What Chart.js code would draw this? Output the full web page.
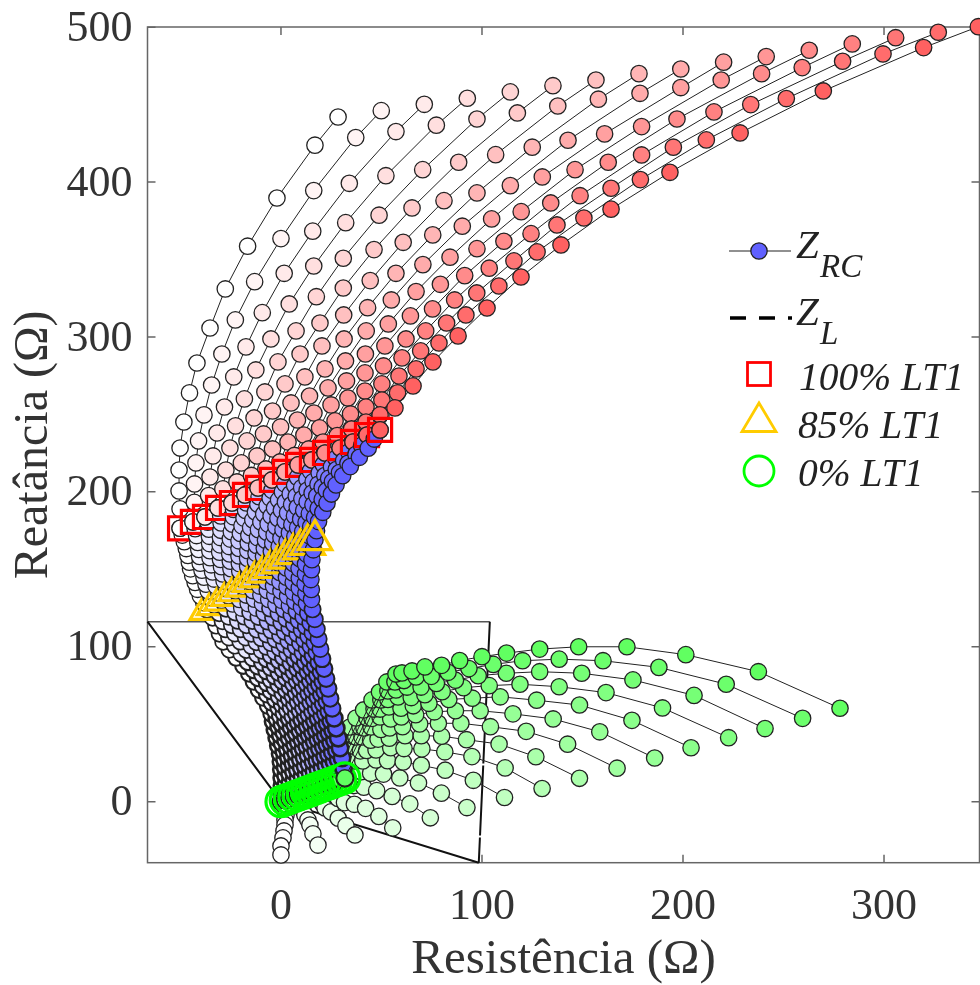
<!DOCTYPE html>
<html>
<head>
<meta charset="utf-8">
<title>Impedância aparente</title>
<script src="https://cdn.jsdelivr.net/npm/chart.js@4/dist/chart.umd.min.js"></script>
<style>
html,body{margin:0;padding:0;background:#fff}
canvas{display:block}
</style>
</head>
<body>
<canvas id="chart" width="980" height="985"></canvas>
<script>
const xTicks = [0, 100, 200, 300];
const yTicks = [0, 100, 200, 300, 400, 500];
const xTitle = 'Resistência (Ω)';
const yTitle = 'Reatância (Ω)';
const legendLabels = ['100% LT1', '85% LT1', '0% LT1'];

// each row holds one value per curve (16 curves, left to right)
// red part: outermost row first, last row sits on the 100% marks
const redRowX = [
[28.4,49.9,71.3,92.7,114.1,135.3,156.7,178.1,198.9,220.2,241.4,262.8,284.2,305.8,327,346.9],
[16.9,37.2,57.2,77.3,97.5,117.6,137.7,157.9,178.6,198.9,219,239.1,259.3,279.4,299.5,319.7],
[-2,16.3,34,52.2,70.5,88.4,106.8,125,142.8,161,179.4,197,215.4,233.7,251.4,269.8],
[-16.6,0,15.8,32.2,48.8,65.2,81.1,97.5,114.1,130,146.3,162.8,179.4,195.2,211.6,228.4],
[-27.7,-13.1,1.6,16.3,31,46.3,60.8,75.5,90.2,104.8,119.5,134.2,148.8,164.2,178.8,193.5],
[-35.3,-22.7,-9.3,4.1,17.6,31,44.4,57.2,70.6,84.1,97.5,110.9,124.4,137.3,150.7,164.2],
[-41.8,-29.4,-17.4,-5,7.5,19.4,31.2,43.1,54.9,67.2,79.3,91.4,103.6,115.9,127.4,139.3],
[-45.5,-34.5,-23.5,-12.5,-1.5,9.5,20.4,31.4,42.4,53.4,64.4,75.4,86.4,97.4,108.4,119.4],
[-48.3,-38.3,-28.1,-18.2,-8,2,11.9,21.9,32.1,42,51.7,62.2,72,82.4,92,102.5],
[-50.2,-41,-31.8,-22.6,-13.4,-4.2,5,14.2,23.4,32.6,41.8,51,60.2,69.5,78.6,88.1],
[-50.7,-42.3,-33.8,-25.4,-16.9,-8.7,-.2,8.2,16.4,24.9,33.3,41.8,50.2,58.7,67.2,75.6],
[-50.7,-43,-35.3,-27.4,-19.7,-11.9,-4.2,3.5,11.4,19.2,26.9,34.6,42.3,50.2,58,65.7],
[-50.2,-43.1,-36,-28.9,-21.9,-14.7,-7.5,-.5,6.7,13.8,20.9,28,35.1,42.3,49.3,56.7],
[-50.2,-43.8,-37.8,-31.3,-24.4,-17.9,-11.4,-4.5,2,8.5,15.4,21.9,29.4,35.8,42.8,49.3]
];
const redRowY = [
[442,446.1,450.2,454.1,458.2,462.2,465.9,470,473,477.4,481,485.1,489.2,493.2,496.7,500.3],
[423.8,428.7,432.6,436.7,440.7,444.6,449.1,453.5,457.3,461,465.9,470,473.9,478,482.7,486.8],
[389.7,394.5,399.2,404.1,408,412.8,417.7,422.5,427,431.1,435.8,440.7,445.3,450,453.9,458.8],
[358.6,363.5,368.3,373.8,378.6,383.3,388,393,397.7,403.3,408,412.8,417.5,422.5,427.2,431.7],
[331,335.7,341.1,345.8,350.8,356.4,361.1,365.9,371.5,376.2,380.9,386.5,391.2,396,401.6,406.3],
[305.8,311,315.7,321.3,326,331.6,336.4,341.1,346.7,351.5,357,361.8,366.7,372.3,376.8,382.5],
[283.2,289,293.6,298.7,303.9,309,314.2,318.9,323.9,329.3,334,339.6,344.4,349.1,354.9,359.4],
[263.9,269,274.2,278.7,283.9,289,294.2,298.7,303.9,308.4,313.6,318.1,323.9,328.4,332.9,338.7],
[245.1,249.7,254.8,260,264.5,269.7,274.2,279.4,284.5,289,294.2,298.7,303.9,309,314.2,318.7],
[228.3,232.9,238,242.6,247.7,252.2,257.4,261.9,267.1,271.6,276.8,281.3,286.5,291,296.1,300.7],
[214.1,218.7,223.2,228.3,232.9,237.4,241.9,246.4,250.9,256.1,260.6,265.1,269.7,274.8,279.4,283.9],
[200.6,205.1,209.6,214.1,218.7,223.2,227.7,232.2,236.7,241.3,245.8,250.3,254.8,259.3,263.9,268.4],
[189,193.3,197.6,201.9,206.4,210.6,214.8,219.3,223.5,227.7,232.2,236.4,240.6,245.1,249.7,254.2],
[176.5,180.6,183.8,189.6,192.8,198,202.5,207.7,212.9,217.4,220.6,225.1,228.3,232.2,236.7,240]
];

// blue part: row 0 is the 100% row, row 12 the 85% row, last row the 0% row
const blueRowX = [
[-50.2,-43.8,-37.8,-31.3,-24.4,-17.9,-11.4,-4.5,2,8.5,15.4,21.9,29.4,35.8,42.8,49.3],
[-49.1,-42.7,-36.4,-30,-23.6,-17.2,-10.9,-4.5,1.9,8.2,14.6,21,27.3,33.7,40.1,46.4],
[-48.1,-42,-35.9,-29.8,-23.7,-17.6,-11.5,-5.4,.7,6.8,12.9,19,25.1,31.2,37.3,43.4],
[-47.1,-41.4,-35.6,-29.9,-24.1,-18.4,-12.7,-6.9,-1.2,4.6,10.3,16,21.8,27.5,33.3,39],
[-46.3,-40.9,-35.5,-30.1,-24.7,-19.4,-14,-8.6,-3.2,2.2,7.6,13,18.4,23.7,29.1,34.5],
[-45.6,-40.5,-35.4,-30.3,-25.2,-20.2,-15.1,-10,-4.9,.2,5.3,10.4,15.5,20.5,25.6,30.7],
[-45,-40.2,-35.3,-30.5,-25.7,-20.9,-16,-11.2,-6.4,-1.5,3.3,8.1,13,17.8,22.6,27.4],
[-43.9,-39.3,-34.7,-30.1,-25.5,-20.9,-16.3,-11.7,-7.1,-2.5,2.1,6.7,11.3,15.9,20.5,25.1],
[-42.7,-38.3,-34,-29.6,-25.2,-20.9,-16.5,-12.1,-7.7,-3.4,1,5.4,9.8,14.1,18.5,22.9],
[-41.5,-37.3,-33.2,-29,-24.9,-20.7,-16.6,-12.4,-8.3,-4.1,0,4.2,8.3,12.5,16.7,20.8],
[-40.1,-36.2,-32.3,-28.3,-24.4,-20.5,-16.6,-12.7,-8.7,-4.8,-.9,3,6.9,10.8,14.8,18.7],
[-38.4,-34.7,-30.9,-27.2,-23.4,-19.7,-16,-12.2,-8.5,-4.7,-1,2.7,6.5,10.2,14,17.7],
[-36.8,-33.2,-29.6,-26.1,-22.5,-18.9,-15.4,-11.8,-8.2,-4.6,-1,2.5,6.1,9.7,13.3,16.9],
[-34,-30.7,-27.3,-24,-20.6,-17.3,-14,-10.6,-7.3,-3.9,-.6,2.7,6.1,9.4,12.8,16.1],
[-32.2,-29,-25.9,-22.7,-19.5,-16.3,-13.2,-10,-6.8,-3.7,-.5,2.7,5.9,9,12.2,15.4],
[-30.5,-27.5,-24.4,-21.4,-18.3,-15.3,-12.2,-9.2,-6.1,-3.1,0,3,6.1,9.1,12.2,15.2],
[-28.7,-25.8,-22.9,-20,-17.1,-14.2,-11.2,-8.3,-5.4,-2.5,.4,3.3,6.2,9.1,12,14.9],
[-25.6,-22.9,-20.2,-17.5,-14.8,-12,-9.3,-6.6,-3.9,-1.2,1.5,4.2,6.9,9.7,12.4,15.1],
[-22.2,-19.7,-17.2,-14.7,-12.2,-9.7,-7.2,-4.8,-2.3,.2,2.7,5.2,7.7,10.2,12.7,15.2],
[-18.7,-16.4,-14.1,-11.8,-9.5,-7.2,-5,-2.7,-.4,1.9,4.2,6.5,8.8,11.1,13.4,15.7],
[-15.8,-13.6,-11.5,-9.3,-7.1,-5,-2.8,-.6,1.6,3.7,5.9,8.1,10.3,12.4,14.6,16.8],
[-13.5,-11.4,-9.3,-7.2,-5.1,-3,-1,1.1,3.2,5.3,7.4,9.5,11.6,13.6,15.7,17.8],
[-11,-9,-7,-5.1,-3.1,-1.1,.9,2.9,4.8,6.8,8.8,10.8,12.8,14.7,16.7,18.7],
[-8.8,-6.9,-5,-3.1,-1.2,.7,2.6,4.4,6.3,8.2,10.1,12,13.9,15.8,17.7,19.6],
[-6.4,-4.6,-2.8,-1,.8,2.6,4.4,6.1,7.9,9.7,11.5,13.3,15.1,16.9,18.7,20.5],
[-4.7,-3,-1.2,.5,2.3,4,5.8,7.5,9.3,11,12.8,14.5,16.3,18,19.8,21.5],
[-3.9,-2.1,-.4,1.4,3.1,4.9,6.7,8.4,10.2,11.9,13.7,15.5,17.2,19,20.7,22.5],
[-3,-1.2,.5,2.3,4.1,5.8,7.6,9.4,11.1,12.9,14.7,16.4,18.2,20,21.7,23.5],
[-2.1,-.3,1.4,3.2,5,6.8,8.5,10.3,12.1,13.8,15.6,17.4,19.2,20.9,22.7,24.5],
[-1.3,.5,2.3,4.1,5.9,7.6,9.4,11.2,13,14.8,16.6,18.4,20.2,22,23.7,25.5],
[-.4,1.4,3.2,5,6.8,8.6,10.4,12.2,13.9,15.7,17.5,19.3,21.1,22.9,24.7,26.5],
[0,1.8,3.7,5.5,7.3,9.2,11,12.8,14.7,16.5,18.3,20.2,22,23.8,25.7,27.5],
[.2,2.1,4,5.9,7.7,9.6,11.5,13.4,15.3,17.2,19.1,21,22.8,24.7,26.6,28.5],
[.4,2.3,4.3,6.2,8.1,10.1,12,13.9,15.9,17.8,19.7,21.7,23.6,25.5,27.5,29.4],
[.5,2.5,4.5,6.5,8.5,10.5,12.5,14.5,16.4,18.4,20.4,22.4,24.4,26.4,28.4,30.4],
[.3,2.4,4.4,6.5,8.5,10.6,12.6,14.7,16.7,18.8,20.8,22.9,24.9,27,29,31.1],
[0,2.1,4.2,6.4,8.5,10.6,12.7,14.8,17,19.1,21.2,23.3,25.4,27.6,29.7,31.8]
];
const blueRowY = [
[176.5,180.6,183.8,189.6,192.8,198,202.5,207.7,212.9,217.4,220.6,225.1,228.3,232.2,236.7,240],
[172.1,176.2,180.4,184.5,188.6,192.8,196.9,201,205.2,209.3,213.4,217.6,221.7,225.8,230,234.1],
[167.8,171.8,175.9,179.9,183.9,188,192,196,200,204.1,208.1,212.1,216.2,220.2,224.2,228.2],
[163.4,167.3,171.3,175.2,179.1,183.1,187,190.9,194.8,198.7,202.7,206.6,210.5,214.4,218.4,222.3],
[159,162.8,166.6,170.5,174.3,178.1,181.9,185.7,189.6,193.4,197.2,201,204.8,208.7,212.5,216.3],
[154.6,158.3,162,165.8,169.5,173.2,176.9,180.6,184.4,188.1,191.8,195.5,199.2,203,206.7,210.4],
[150.3,153.9,157.5,161.1,164.7,168.4,172,175.6,179.2,182.8,186.4,190,193.6,197.3,200.9,204.5],
[145.9,149.4,152.9,156.4,159.9,163.5,167,170.5,174,177.5,181,184.5,188,191.6,195.1,198.6],
[141.5,144.9,148.3,151.7,155.2,158.6,162,165.4,168.8,172.2,175.6,179,182.4,185.9,189.3,192.7],
[137.1,140.4,143.7,147,150.4,153.7,157,160.3,163.6,166.9,170.2,173.5,176.9,180.2,183.5,186.8],
[132.8,136,139.2,142.4,145.6,148.8,152,155.2,158.4,161.6,164.8,168,171.2,174.4,177.6,180.8],
[128.4,131.5,134.6,137.7,140.8,143.9,147,150.1,153.2,156.3,159.4,162.5,165.6,168.7,171.8,174.9],
[124,127,130,133,136,139,142,145,148,151,154,157,160,163,166,169],
[118.8,121.7,124.6,127.6,130.5,133.4,136.3,139.2,142.2,145.1,148,150.9,153.8,156.8,159.7,162.6],
[113.7,116.5,119.4,122.2,125,127.9,130.7,133.5,136.4,139.2,142,144.9,147.7,150.5,153.4,156.2],
[108.5,111.3,114,116.8,119.5,122.3,125,127.8,130.5,133.3,136,138.8,141.5,144.3,147,149.8],
[103.3,106,108.6,111.3,114,116.7,119.3,122,124.7,127.3,130,132.7,135.3,138,140.7,143.4],
[98.2,100.8,103.4,106,108.5,111.1,113.7,116.3,118.9,121.5,124.1,126.6,129.2,131.8,134.4,137],
[93,95.5,98,100.5,103,105.5,108,110.5,113.1,115.6,118.1,120.6,123.1,125.6,128.1,130.6],
[87.8,90.2,92.7,95.1,97.5,100,102.4,104.8,107.2,109.7,112.1,114.5,117,119.4,121.8,124.2],
[82.7,85,87.4,89.7,92.1,94.4,96.7,99.1,101.4,103.8,106.1,108.4,110.8,113.1,115.5,117.8],
[77.5,79.8,82,84.3,86.5,88.8,91.1,93.3,95.6,97.8,100.1,102.4,104.6,106.9,109.1,111.4],
[72.3,74.5,76.7,78.8,81,83.2,85.4,87.6,89.7,91.9,94.1,96.3,98.5,100.6,102.8,105],
[67.2,69.3,71.4,73.5,75.6,77.7,79.8,81.9,83.9,86,88.1,90.2,92.3,94.4,96.5,98.6],
[62,64,66,68,70.1,72.1,74.1,76.1,78.1,80.1,82.1,84.1,86.2,88.2,90.2,92.2],
[56.8,58.7,60.7,62.6,64.5,66.5,68.4,70.3,72.3,74.2,76.1,78.1,80,81.9,83.9,85.8],
[51.7,53.5,55.4,57.2,59.1,60.9,62.8,64.6,66.5,68.3,70.2,72,73.9,75.7,77.6,79.4],
[46.5,48.3,50,51.8,53.6,55.3,57.1,58.9,60.6,62.4,64.2,65.9,67.7,69.5,71.2,73],
[41.3,43,44.7,46.4,48.1,49.7,51.4,53.1,54.8,56.5,58.2,59.9,61.5,63.2,64.9,66.6],
[36.2,37.8,39.4,41,42.6,44.2,45.8,47.4,49,50.6,52.2,53.8,55.4,57,58.6,60.2],
[31,32.5,34,35.6,37.1,38.6,40.1,41.6,43.2,44.7,46.2,47.7,49.2,50.8,52.3,53.8],
[25.8,27.2,28.7,30.1,31.6,33,34.4,35.9,37.3,38.8,40.2,41.6,43.1,44.5,46,47.4],
[20.7,22.1,23.4,24.8,26.1,27.5,28.8,30.2,31.5,32.9,34.2,35.6,36.9,38.3,39.6,41],
[15.5,16.8,18,19.3,20.6,21.9,23.1,24.4,25.7,26.9,28.2,29.5,30.8,32,33.3,34.6],
[10.3,11.5,12.7,13.9,15.1,16.3,17.5,18.6,19.8,21,22.2,23.4,24.6,25.8,27,28.2],
[5.2,6.3,7.4,8.5,9.6,10.7,11.9,13,14.1,15.2,16.3,17.4,18.5,19.6,20.7,21.8],
[0,1,2,3.1,4.1,5.1,6.1,7.1,8.2,9.2,10.2,11.2,12.2,13.3,14.3,15.3]
];
const MARK_100 = 0, MARK_85 = 12, MARK_0 = blueRowX.length - 1;

// green part: first row next to the 0% marks, last row the far ends
const greenRowX = [
[.5,5,10.4,15.9,20.4,24.4,26.9,29.4,31.8,34.3,37.3,41.1,45.3,49,52.7,57.2],
[.5,5.5,11.4,16.9,21.4,25.4,28.9,32.3,35.8,39.3,42.8,46.3,49.7,53.2,56.7,60.2],
[1,6,11.9,17.4,21.9,25.9,29.9,33.8,37.3,41.3,45.3,49.3,53.2,57.2,61.2,65.2],
[1.5,6.9,12.9,18.4,22.9,27.4,31.3,35.8,40.3,44.8,49.3,53.7,58.2,62.7,67.2,71.6],
[2,8,13.9,19.3,24.4,29.5,34.4,39.5,44.6,49.7,54.6,59.7,64.8,69.7,74.8,79.9],
[2.5,8.9,15.4,20.3,25.4,30.9,36.8,42.6,48.3,54.1,59.9,65.8,71.6,77.3,83.1,88.9],
[2.5,9.9,16.9,22.4,27.9,34.4,40.7,47.3,53.9,60.5,67,73.6,80.2,86.8,93.5,100],
[2.5,10.4,18.9,25.9,32.9,40,47.3,54.6,61.7,69,76.3,83.5,90.8,98.1,105.6,112.2],
[2,10.9,20.4,28.4,36.2,44.6,53,61.2,69.8,78.3,86.8,95.2,103.6,112.1,120.2,128.7],
[2,11.9,21.9,31.6,41.2,51,60.8,70.1,79.9,89.5,99.1,109.1,118.9,128.7,138.4,148.1],
[1.5,13.4,24.9,36.5,47.6,59.1,69.8,81.5,92.3,104.2,115.4,127.2,138.4,149.6,160.2,172.1],
[1,14.4,28.5,42.1,55.3,68.4,81.7,95,108.5,122,135.4,148.5,161.7,175.1,188,201.4],
[0,15.9,32.3,48.7,64.1,79.8,95.7,111.5,126.8,142.6,158.6,174.6,189.8,205.5,221.5,237.5],
[0,18.4,36.8,55.6,74.3,92.5,111.2,129.9,148.5,167.2,185.9,204,222.7,240.8,259.5,278.1]
];
const greenRowY = [
[3.7,11.4,16.6,21.2,25.6,29.5,33.4,37.9,43.1,48.2,54,59.2,65.7,70.8,77.3,82.4],
[2.4,10.1,15.3,19.8,23.7,28.2,32.1,36.6,42.4,48.2,54,59.8,65.7,71.5,77.3,83.1],
[1.1,8.2,13.4,17.9,21.8,26.3,30.8,36,41.8,47.6,53.8,59.8,66,72.1,78.2,84.4],
[-.2,6.3,11.5,16,19.8,25,30.1,36,41.8,48.2,54.7,61.1,67.6,74,80.5,87],
[-1.4,4.3,8.8,11.2,15.1,21,26.3,32.8,39.7,46.6,53.4,60.3,67.2,74,80.9,88],
[-3.4,2.4,6.9,9.3,13.8,19.6,26.3,33.1,40.4,47.6,54.7,61.9,69.1,76.3,83.5,91.1],
[-6,0,4.3,6.6,11.8,19.1,26.3,33.4,41,48.4,56.1,63.5,71,78.4,85.9,93.6],
[-8.6,-2.7,1.8,4.7,11.8,19.4,26.9,34.8,42.6,50.2,58,66,73.6,81.3,88.6,95.9],
[-11.8,-5.4,-.8,2.1,10.4,18.4,26.5,34.3,42.6,50.6,58.7,66.8,74.9,82.9,91,98.5],
[-15,-8.6,-4.1,-.6,9.3,17.8,25.6,34.1,42.3,50.6,58.7,67.7,75.8,83.9,92,100],
[-18.9,-11.8,-6.6,-1.7,7.1,15.3,23.5,32.2,40,48.4,56.7,65.5,74.2,82.9,91,100],
[-23.4,-15.1,-10.7,-4.3,3.4,12.1,20.3,29.1,37.2,45.4,53.4,62.4,70.4,78.6,86.7,94.9],
[-28.6,-20.7,-15.5,-9.5,-1.4,5.5,13.8,21.8,29,37.1,45.1,52.5,60.5,68.6,75.8,83.9],
[-34.4,-28,-21.5,-16.9,-10.4,-3.8,2.7,8.5,15.1,21.6,28.2,34.8,41.3,47.2,53.8,60.3]
];

// Z_L characteristic, cut by the axes
const zlTopX = [-66.4, 103.9];
const zlTopY = [116.2, 116.2];
const zlSideX = [103.9, 98.4];
const zlSideY = [116.2, -39.4];
const zlX = [98.4, 0, -66.4];
const zlY = [-39.4, 0, 116.2];

const AREA = {left: 147.5, right: 979.5, top: 27, bottom: 862.7};
const SERIF = '"Liberation Serif","Times New Roman",serif';

function pts(xs, ys) { return xs.map((x, i) => ({x: x, y: ys[i]})); }
function col(row, k) { return row.map(r => r[k]); }

function tint(k, ch) {
    const v = Math.round(255 - 158 * k / 15);
    if (ch === 'r') return `rgb(255,${v},${v})`;
    if (ch === 'b') return `rgb(${v},${v},255)`;
    return `rgb(${v},255,${v})`;
}

const datasets = [];
let seq = 0;
function add(d) { d.order = -(seq++); d.clip = false; d.showLine = d.showLine !== false; datasets.push(d); }

add({data: pts(zlTopX, zlTopY), borderColor: '#555', borderWidth: 1.5, pointRadius: 0});
add({data: pts(zlSideX, zlSideY), borderColor: '#111', borderWidth: 2, borderDash: [70, 2], pointRadius: 0});
add({data: pts(zlX, zlY), borderColor: '#111', borderWidth: 2, pointRadius: 0});

// the low rows sit so close in the original that their rims nearly merge
const blueRim = c => {
    const y = c.parsed ? c.parsed.y : 200;
    return y < 55 ? 2.6 : y < 95 ? 2.1 : y < 125 ? 1.7 : 1.3;
};

const mark = (k, row, style, r, c, w) => add({
    data: [{x: blueRowX[row][k], y: blueRowY[row][k]}], showLine: false,
    pointStyle: style, pointRadius: r, pointBorderWidth: w || 3.2, pointBorderColor: c, pointBackgroundColor: 'rgba(0,0,0,0)'
});

for (let k = 0; k < 16; k++) {
    // green 0% rings stay above the earlier curves, only the last curve goes over them
    if (k === 15) for (let j = 0; j < 15; j++) mark(j, MARK_0, 'circle', 15, '#00ff00', 3.2);

    const curve = (data, c, rim) => add({
        data: data, borderColor: '#222', borderWidth: 1, tension: 0,
        pointRadius: 8.2, pointBorderWidth: rim || 1.3, pointBorderColor: '#222', pointBackgroundColor: c
    });
    curve(pts(col(blueRowX, k).reverse(), col(blueRowY, k).reverse()), tint(k, 'b'), blueRim);
    curve(pts(col(redRowX, k).reverse(), col(redRowY, k).reverse()), tint(k, 'r'));
    curve(pts([blueRowX[MARK_0][k]].concat(col(greenRowX, k)), [blueRowY[MARK_0][k]].concat(col(greenRowY, k))), tint(k, 'g'));

    mark(k, MARK_100, 'rect', 16.3, '#ff0000');
    mark(k, MARK_85, 'triangle', 19.5, '#ffcc00');
}
mark(15, MARK_0, 'circle', 15, '#00ff00', 3.2);

const frame = {
    id: 'frame',
    beforeDatasetsDraw(chart) {
        const ctx = chart.ctx, a = chart.chartArea, sx = chart.scales.x, sy = chart.scales.y;
        ctx.save();
        ctx.strokeStyle = '#666';
        ctx.lineWidth = 1.5;
        ctx.strokeRect(a.left, a.top, a.right - a.left, a.bottom - a.top);
        ctx.beginPath();
        xTicks.forEach(v => {
            const p = sx.getPixelForValue(v);
            ctx.moveTo(p, a.bottom); ctx.lineTo(p, a.bottom - 8);
            ctx.moveTo(p, a.top); ctx.lineTo(p, a.top + 8);
        });
        yTicks.forEach(v => {
            const p = sy.getPixelForValue(v);
            ctx.moveTo(a.left, p); ctx.lineTo(a.left + 8, p);
            ctx.moveTo(a.right, p); ctx.lineTo(a.right - 8, p);
        });
        ctx.stroke();
        ctx.restore();
    }
};

const legendBox = {
    id: 'legendBox',
    afterDraw(chart) {
        const ctx = chart.ctx;
        ctx.save();
        ctx.textBaseline = 'alphabetic';
        ctx.textAlign = 'left';

        ctx.strokeStyle = '#222';
        ctx.lineWidth = 1.2;
        ctx.beginPath(); ctx.moveTo(729, 251); ctx.lineTo(791, 251); ctx.stroke();
        ctx.fillStyle = 'rgb(97,97,255)';
        ctx.lineWidth = 1.3;
        ctx.beginPath(); ctx.arc(759, 251, 8.2, 0, Math.PI * 2); ctx.fill(); ctx.stroke();

        ctx.strokeStyle = '#000';
        ctx.lineWidth = 3.5;
        ctx.setLineDash([16, 13]);
        ctx.beginPath(); ctx.moveTo(730, 318); ctx.lineTo(792, 318); ctx.stroke();
        ctx.setLineDash([]);

        ctx.fillStyle = '#222';
        ctx.font = 'italic 41px ' + SERIF;
        ctx.fillText('Z', 796, 258);
        ctx.fillText('Z', 796, 325);
        ctx.font = 'italic 33px ' + SERIF;
        ctx.fillText('RC', 820, 277);
        ctx.fillText('L', 820, 344);

        ctx.font = 'italic 39.5px ' + SERIF;
        ctx.fillText(legendLabels[0], 799, 390);
        ctx.fillText(legendLabels[1], 798, 438);
        ctx.fillText(legendLabels[2], 798, 486);

        ctx.lineWidth = 2.8;
        ctx.strokeStyle = '#ff0000';
        ctx.strokeRect(747.5, 362.5, 23, 23);
        ctx.strokeStyle = '#ffcc00';
        ctx.beginPath(); ctx.moveTo(759, 403); ctx.lineTo(742, 431.5); ctx.lineTo(776, 431.5); ctx.closePath(); ctx.stroke();
        ctx.strokeStyle = '#00ff00';
        ctx.beginPath(); ctx.arc(759, 471, 15, 0, Math.PI * 2); ctx.stroke();
        ctx.restore();
    }
};

const noOverhang = s => { s.paddingLeft = 0; s.paddingRight = 0; s.paddingTop = 0; s.paddingBottom = 0; };

new Chart(document.getElementById('chart'), {
    type: 'scatter',
    data: {datasets: datasets},
    plugins: [frame, legendBox],
    options: {
        responsive: false,
        animation: false,
        events: [],
        layout: {autoPadding: false, padding: {top: AREA.top, right: 980 - AREA.right, left: 0, bottom: 0}},
        plugins: {legend: {display: false}, tooltip: {enabled: false}},
        scales: {
            x: {
                type: 'linear', min: -66.4, max: 347.5,
                grid: {display: false}, border: {display: false},
                afterBuildTicks(s) { s.ticks = xTicks.map(v => ({value: v})); },
                afterFit(s) { s.height = 985 - AREA.bottom; noOverhang(s); },
                ticks: {maxRotation: 0, padding: 10, color: '#333', font: {family: SERIF, size: 44}},
                title: {display: true, text: xTitle, color: '#333', padding: 0, font: {family: SERIF, size: 49, lineHeight: 1}}
            },
            y: {
                type: 'linear', min: -39.4, max: 500.1,
                grid: {display: false}, border: {display: false},
                afterBuildTicks(s) { s.ticks = yTicks.map(v => ({value: v})); },
                afterFit(s) { s.width = AREA.left; noOverhang(s); },
                ticks: {padding: 7, labelOffset: 2, color: '#333', font: {family: SERIF, size: 44}},
                title: {display: true, text: yTitle, color: '#333', padding: {top: 10, bottom: 10}, font: {family: SERIF, size: 48, lineHeight: 1}}
            }
        }
    }
});
</script>
</body>
</html>
